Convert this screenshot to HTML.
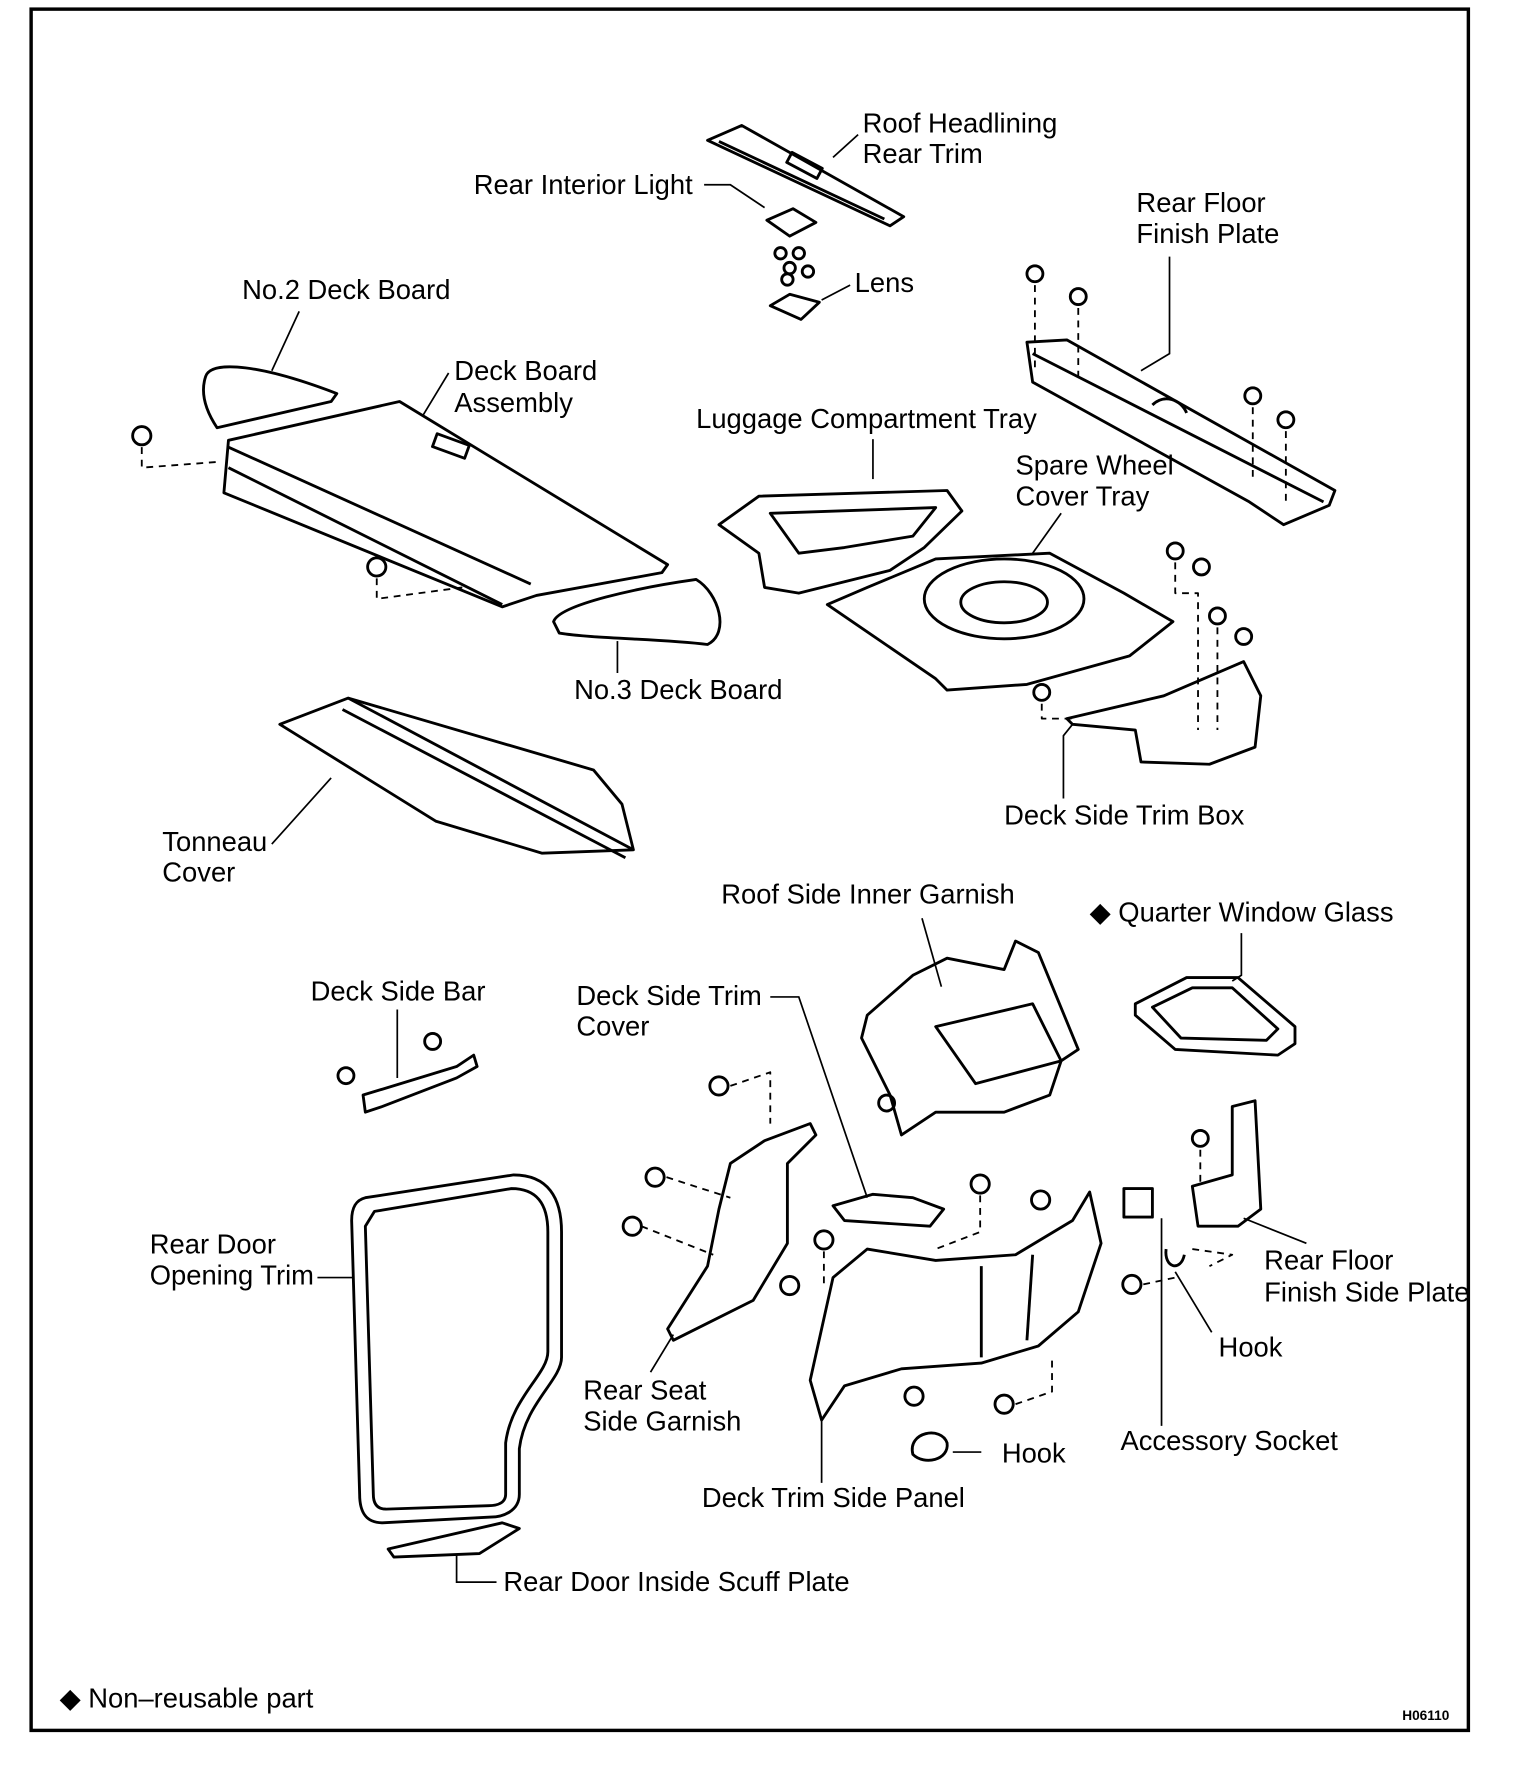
<!DOCTYPE html>
<html><head><meta charset="utf-8"><style>
html,body{margin:0;padding:0;background:#fff}
svg{display:block}
text{font-family:"Liberation Sans",Arial,sans-serif;font-size:24px;fill:#000}
</style></head><body>
<svg width="1536" height="1792" viewBox="0 0 1346 1571" xmlns="http://www.w3.org/2000/svg">
<rect x="27" y="8" width="1260" height="1509" fill="none" stroke="#000" stroke-width="3"/>
<g fill="none" stroke="#000" stroke-width="2.5" stroke-linejoin="round">
<path d="M620 123 L650 110 L792 190 L780 198 Z"/><path d="M630 124 L775 192"/>
<rect x="690" y="140" width="30" height="10" transform="rotate(28 705 145)"/>
<path d="M672 193 L695 183 L715 195 L692 207 Z"/>
<circle cx="684" cy="222" r="5"/><circle cx="700" cy="222" r="5"/><circle cx="692" cy="235" r="5"/><circle cx="708" cy="238" r="5"/><circle cx="690" cy="245" r="5"/>
<path d="M675 268 L692 258 L718 265 L702 280 Z"/>
<path d="M900 300 L935 298 L1170 430 L1165 443 L1125 460 L1095 440 L905 335 Z"/>
<path d="M905 310 L1160 440"/><path d="M1010 355 C1020 345 1035 350 1040 362"/>
<g>
<circle cx="907" cy="240" r="7"/><circle cx="945" cy="260" r="7"/><circle cx="1098" cy="347" r="7"/><circle cx="1127" cy="368" r="7"/>
<circle cx="1030" cy="483" r="7"/><circle cx="1053" cy="497" r="7"/><circle cx="1067" cy="540" r="7"/><circle cx="1090" cy="558" r="7"/><circle cx="913" cy="607" r="7"/>
<circle cx="124" cy="382" r="8"/><circle cx="330" cy="497" r="8"/>
<circle cx="379" cy="913" r="7"/><circle cx="303" cy="943" r="7"/>
<circle cx="630" cy="952" r="8"/><circle cx="574" cy="1032" r="8"/><circle cx="554" cy="1075" r="8"/><circle cx="692" cy="1127" r="8"/>
<circle cx="859" cy="1038" r="8"/><circle cx="912" cy="1052" r="8"/><circle cx="722" cy="1087" r="8"/><circle cx="801" cy="1224" r="8"/><circle cx="880" cy="1231" r="8"/>
<circle cx="1052" cy="998" r="7"/><circle cx="992" cy="1126" r="8"/><circle cx="777" cy="967" r="7"/>
</g>
<g stroke-dasharray="6,5" stroke-width="1.6">
<path d="M907 250 V325"/><path d="M945 270 V330"/><path d="M1098 357 V420"/><path d="M1127 378 V440"/>
<path d="M1030 493 V520 H1050 V640"/><path d="M1067 550 V640"/><path d="M913 617 V630 H940"/>
<path d="M124 392 V410 L190 405"/><path d="M330 507 V525 L405 515"/>
<path d="M640 952 L675 940 V985"/><path d="M584 1032 L640 1050"/><path d="M562 1075 L625 1100"/>
<path d="M859 1048 V1080 L820 1095"/><path d="M722 1097 V1130"/><path d="M890 1231 L922 1220 V1190"/>
<path d="M1052 1008 V1040"/><path d="M1002 1126 L1030 1120"/><path d="M1045 1095 L1080 1100 L1060 1110"/>
</g>
<path d="M180 330 C185 315 230 320 295 345 L290 352 L190 375 C180 360 175 345 180 330 Z"/>
<path d="M196 432 L200 386 L350 352 L585 495 L580 502 L470 522 L440 532 Z"/>
<path d="M200 392 L465 512"/><path d="M200 410 L440 530"/>
<rect x="380" y="385" width="30" height="12" transform="rotate(20 395 391)"/>
<path d="M485 545 C490 530 560 515 610 508 C630 520 640 555 620 565 C580 560 520 560 490 555 Z"/>
<path d="M630 460 L665 435 L830 430 L843 448 L810 480 L780 500 L700 520 L670 515 L665 485 Z"/>
<path d="M675 450 L820 445 L800 470 L740 480 L700 485 Z"/>
<path d="M725 530 L760 515 L820 490 L920 485 L985 520 L1028 545 L990 575 L900 600 L830 605 L820 595 Z"/>
<ellipse cx="880" cy="525" rx="70" ry="35"/><ellipse cx="880" cy="528" rx="38" ry="18"/>
<path d="M935 630 L1020 610 L1090 580 L1105 610 L1100 655 L1060 670 L1000 668 L995 640 L940 635 Z"/>
<path d="M245 635 L305 612 L520 675 L545 705 L555 745 L475 748 L382 720 Z"/>
<path d="M305 612 L555 745"/><path d="M300 622 L548 752"/>
<path d="M760 890 L800 855 L830 840 L880 850 L890 825 L910 835 L945 920 L930 930 L920 960 L880 975 L820 975 L790 995 L780 960 L755 910 Z"/>
<path d="M820 900 L905 880 L930 930 L855 950 Z"/>
<path d="M995 880 L1040 857 L1085 857 L1135 900 L1135 915 L1120 925 L1030 920 L995 890 Z"/>
<path d="M1010 883 L1045 866 L1080 866 L1120 902 L1110 912 L1035 910 Z"/>
<path d="M318 960 L400 935 L415 925 L418 935 L400 945 L335 970 L320 975 Z"/>
<path d="M730 1057 L765 1047 L800 1050 L827 1060 L815 1075 L740 1070 Z"/>
<path d="M640 1020 L670 1000 L710 985 L715 995 L690 1020 L690 1090 L660 1140 L620 1160 L590 1175 L585 1165 L620 1110 L630 1060 Z"/>
<path d="M710 1210 L730 1120 L760 1095 L820 1105 L890 1100 L940 1070 L955 1045 L965 1090 L945 1150 L910 1180 L860 1195 L790 1200 L740 1215 L720 1245 Z"/>
<path d="M860 1110 L860 1190"/><path d="M905 1100 L900 1175"/>
<path d="M800 1275 C795 1255 825 1250 830 1265 C832 1280 810 1285 800 1275 Z"/>
<path d="M1080 970 L1100 965 L1105 1060 L1085 1075 L1050 1075 L1045 1040 L1080 1030 Z"/>
<rect x="985" y="1042" width="25" height="25"/>
<path d="M1022 1095 C1020 1112 1035 1115 1038 1100"/>
<path d="M320 1050 L450 1030 C480 1030 492 1050 492 1080 L492 1190 C492 1210 460 1230 455 1270 L455 1310 C455 1325 440 1330 430 1330 L335 1335 C320 1335 315 1325 315 1310 L308 1070 C308 1058 312 1052 320 1050 Z"/>
<path d="M328 1062 L448 1042 C470 1042 480 1055 480 1080 L480 1185 C480 1205 448 1225 443 1265 L443 1310 C443 1318 435 1320 428 1320 L338 1323 C330 1323 327 1318 327 1310 L320 1075 Z"/>
<path d="M340 1358 L440 1335 L455 1340 L420 1362 L345 1365 Z"/>
</g>
<g fill="none" stroke="#000" stroke-width="1.5">
<path d="M752 118 L730 138"/><path d="M617 162 H640 L670 182"/><path d="M745 250 L720 263"/>
<path d="M1025 225 V310 L1000 325"/><path d="M262 273 L238 325"/><path d="M393 327 L370 365"/>
<path d="M765 385 V420"/><path d="M930 450 L905 485"/><path d="M541 590 V562"/>
<path d="M932 700 V645 L940 635"/><path d="M238 740 L290 682"/>
<path d="M808 805 L825 865"/><path d="M1088 818 V855 L1080 860"/>
<path d="M348 885 V945"/><path d="M675 874 H700 L760 1050"/>
<path d="M278 1120 H310"/><path d="M570 1203 L590 1170"/><path d="M720 1300 V1245"/>
<path d="M860 1273 H835"/><path d="M1062 1168 L1030 1115"/><path d="M1018 1250 V1068"/>
<path d="M1145 1090 L1090 1068"/><path d="M400 1363 V1387 H435"/>
</g>
<text x="756" y="116">Roof Headlining</text><text x="756" y="143">Rear Trim</text>
<text x="415" y="170">Rear Interior Light</text>
<text x="749" y="256">Lens</text>
<text x="996" y="186">Rear Floor</text><text x="996" y="213">Finish Plate</text>
<text x="212" y="262">No.2 Deck Board</text>
<text x="398" y="333">Deck Board</text><text x="398" y="361">Assembly</text>
<text x="610" y="375">Luggage Compartment Tray</text>
<text x="890" y="416">Spare Wheel</text><text x="890" y="443">Cover Tray</text>
<text x="503" y="613">No.3 Deck Board</text>
<text x="880" y="723">Deck Side Trim Box</text>
<text x="142" y="746">Tonneau</text><text x="142" y="773">Cover</text>
<text x="632" y="792">Roof Side Inner Garnish</text>
<text x="955" y="808">◆ Quarter Window Glass</text>
<text x="272" y="877">Deck Side Bar</text>
<text x="505" y="881">Deck Side Trim</text><text x="505" y="908">Cover</text>
<text x="131" y="1099">Rear Door</text><text x="131" y="1126">Opening Trim</text>
<text x="1108" y="1113">Rear Floor</text><text x="1108" y="1141">Finish Side Plate</text>
<text x="1068" y="1189">Hook</text>
<text x="511" y="1227">Rear Seat</text><text x="511" y="1254">Side Garnish</text>
<text x="982" y="1271">Accessory Socket</text>
<text x="878" y="1282">Hook</text>
<text x="615" y="1321">Deck Trim Side Panel</text>
<text x="441" y="1395">Rear Door Inside Scuff Plate</text>
<text x="52" y="1497">◆ Non–reusable part</text>
<text x="1229" y="1508" style="font-size:12px;font-weight:bold">H06110</text>
</svg>
</body></html>
